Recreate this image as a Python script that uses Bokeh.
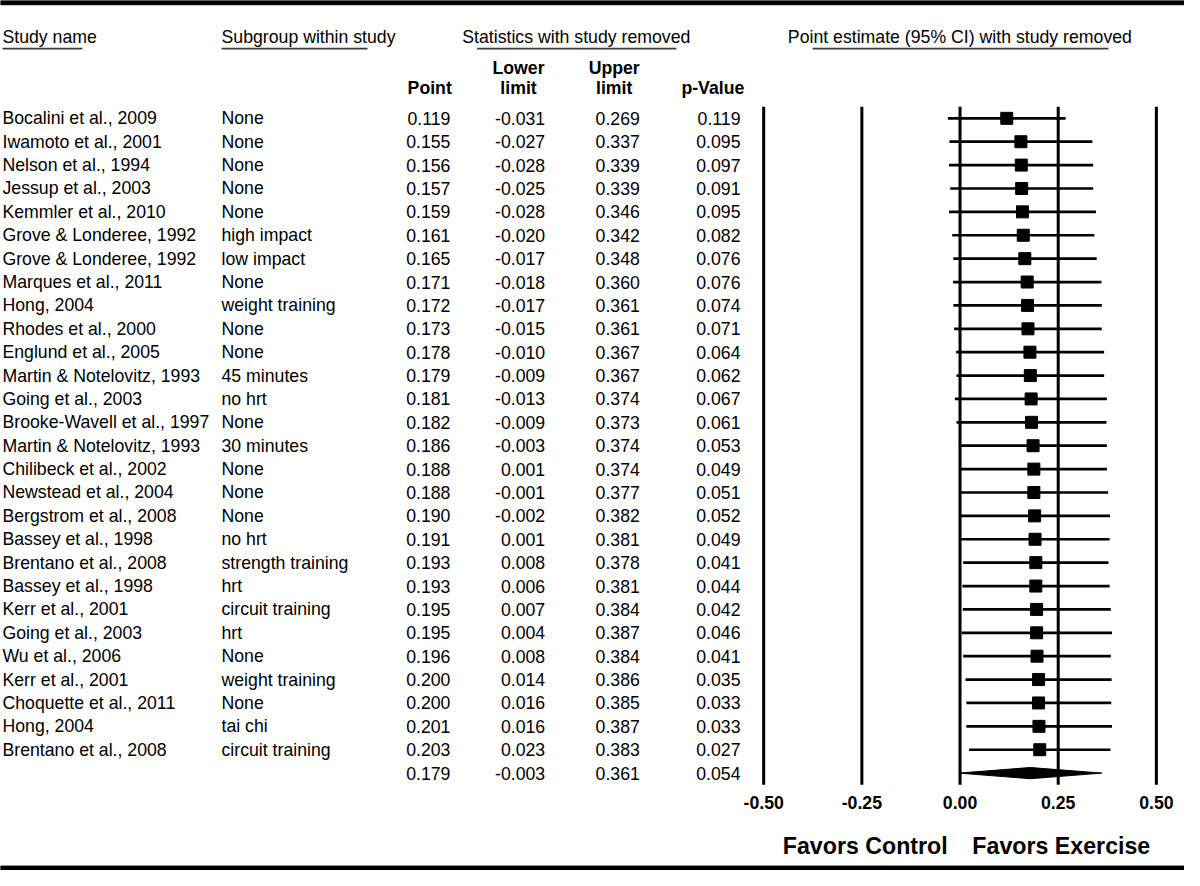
from bokeh.plotting import figure
from bokeh.models import Range1d, ColumnDataSource
from bokeh.core.properties import value
from bokeh.embed import file_html
from bokeh.resources import INLINE

# ---------------- data ----------------
studies = ["Bocalini et al., 2009", "Iwamoto et al., 2001", "Nelson et al., 1994",
           "Jessup et al., 2003", "Kemmler et al., 2010", "Grove & Londeree, 1992",
           "Grove & Londeree, 1992", "Marques et al., 2011", "Hong, 2004",
           "Rhodes et al., 2000", "Englund et al., 2005", "Martin & Notelovitz, 1993",
           "Going et al., 2003", "Brooke-Wavell et al., 1997", "Martin & Notelovitz, 1993",
           "Chilibeck et al., 2002", "Newstead et al., 2004", "Bergstrom et al., 2008",
           "Bassey et al., 1998", "Brentano et al., 2008", "Bassey et al., 1998",
           "Kerr et al., 2001", "Going et al., 2003", "Wu et al., 2006",
           "Kerr et al., 2001", "Choquette et al., 2011", "Hong, 2004",
           "Brentano et al., 2008"]
subgroups = ["None", "None", "None", "None", "None", "high impact", "low impact", "None",
             "weight training", "None", "None", "45 minutes", "no hrt", "None",
             "30 minutes", "None", "None", "None", "no hrt", "strength training", "hrt",
             "circuit training", "hrt", "None", "weight training", "None", "tai chi",
             "circuit training"]
point = [0.119, 0.155, 0.156, 0.157, 0.159, 0.161, 0.165, 0.171, 0.172, 0.173, 0.178,
         0.179, 0.181, 0.182, 0.186, 0.188, 0.188, 0.190, 0.191, 0.193, 0.193, 0.195,
         0.195, 0.196, 0.200, 0.200, 0.201, 0.203]
lower = [-0.031, -0.027, -0.028, -0.025, -0.028, -0.020, -0.017, -0.018, -0.017, -0.015,
         -0.010, -0.009, -0.013, -0.009, -0.003, 0.001, -0.001, -0.002, 0.001, 0.008,
         0.006, 0.007, 0.004, 0.008, 0.014, 0.016, 0.016, 0.023]
upper = [0.269, 0.337, 0.339, 0.339, 0.346, 0.342, 0.348, 0.360, 0.361, 0.361, 0.367,
         0.367, 0.374, 0.373, 0.374, 0.374, 0.377, 0.382, 0.381, 0.378, 0.381, 0.384,
         0.387, 0.384, 0.386, 0.385, 0.387, 0.383]
pvalue = [0.119, 0.095, 0.097, 0.091, 0.095, 0.082, 0.076, 0.076, 0.074, 0.071, 0.064,
          0.062, 0.067, 0.061, 0.053, 0.049, 0.051, 0.052, 0.049, 0.041, 0.044, 0.042,
          0.046, 0.041, 0.035, 0.033, 0.033, 0.027]
summary = {"point": 0.179, "lower": -0.003, "upper": 0.361, "p": 0.054}
ticks = [-0.50, -0.25, 0.00, 0.25, 0.50]
tick_labels = ["-0.50", "-0.25", "0.00", "0.25", "0.50"]

# ---------------- layout helpers ----------------
X0PX, PXU = 972.5, 398.0          # pixel of effect 0, pixels per unit
ROW0, ROWH = 120.0, 23.815        # pixel of first row, row spacing
REF_W, REF_H = 1200.0, 886.0


def fx(px):
    return (px - X0PX) / PXU


def fy(py):
    return (py - ROW0) / ROWH


FONT = value("Liberation Sans")
FS = "17.7px"

p = figure(width=1184, height=870, output_backend="svg", toolbar_location=None,
           x_range=Range1d(fx(0), fx(REF_W)), y_range=Range1d(fy(REF_H), fy(0)),
           min_border=0, outline_line_color=None)
p.axis.visible = False
p.grid.visible = False
p.background_fill_color = "white"
p.border_fill_color = "white"

n = len(studies)
rows = list(range(n))
src = ColumnDataSource(dict(
    y=rows, study=studies, sub=subgroups,
    point=point, lower=lower, upper=upper,
    pt=[f"{v:.3f}" for v in point], lo=[f"{v:.3f}" for v in lower],
    up=[f"{v:.3f}" for v in upper], pv=[f"{v:.3f}" for v in pvalue],
    x_study=[fx(2)] * n, x_sub=[fx(224)] * n, x_pt=[fx(456)] * n,
    x_lo=[fx(552)] * n, x_up=[fx(648)] * n, x_pv=[fx(750)] * n,
))

# top / bottom bands
p.quad(left=fx(0), right=fx(REF_W), bottom=fy(4.3), top=fy(0), color="black")
p.quad(left=fx(0), right=fx(REF_W), bottom=fy(REF_H), top=fy(881.5), color="black")

# header texts
hdr = dict(text_font=FONT, text_font_size=FS, text_baseline="middle", text_color="black")
p.text(x=[fx(2), fx(224), fx(468), fx(798)], y=[fy(37)] * 4,
       text=["Study name", "Subgroup within study", "Statistics with study removed",
             "Point estimate (95% CI) with study removed"], text_align="left", **hdr)
p.segment(x0=[fx(2), fx(224), fx(483), fx(823)], x1=[fx(83), fx(372), fx(685), fx(1123)],
          y0=[fy(49)] * 4, y1=[fy(49)] * 4, line_color="#3a3a3a", line_width=1.6)

bold = dict(text_font=FONT, text_font_size=FS, text_font_style="bold",
            text_baseline="middle", text_align="center", text_color="black")
p.text(x=[fx(435), fx(525), fx(525), fx(622), fx(622), fx(722)],
       y=[fy(89), fy(69), fy(89), fy(69), fy(89), fy(89)],
       text=["Point", "Lower", "limit", "Upper", "limit", "p-Value"], **bold)

# table body
body = dict(source=src, y="y", text_font=FONT, text_font_size=FS,
            text_baseline="middle", text_color="black")
p.text(x="x_study", text="study", text_align="left", **body)
p.text(x="x_sub", text="sub", text_align="left", **body)
p.text(x="x_pt", text="pt", text_align="right", **body)
p.text(x="x_lo", text="lo", text_align="right", **body)
p.text(x="x_up", text="up", text_align="right", **body)
p.text(x="x_pv", text="pv", text_align="right", **body)

# summary row numbers
p.text(x=[fx(456), fx(552), fx(648), fx(750)], y=[n] * 4,
       text=[f"{summary[k]:.3f}" for k in ("point", "lower", "upper", "p")],
       text_align="right", text_font=FONT, text_font_size=FS,
       text_baseline="middle", text_color="black")

# vertical reference lines
p.segment(x0=ticks, x1=ticks, y0=[-0.5] * len(ticks), y1=[n + 0.5] * len(ticks),
          line_color="black", line_width=3)

# CIs and point squares
p.segment(x0="lower", x1="upper", y0="y", y1="y", source=src,
          line_color="black", line_width=2.7)
p.scatter(x="point", y="y", source=src, marker="square", size=12,
          fill_color="black", line_color="black")

# summary diamond
h = 0.24
p.patch(x=[summary["lower"], summary["point"], summary["upper"], summary["point"]],
        y=[n, n - h, n, n + h], fill_color="black", line_color="black")

# tick labels
p.text(x=ticks, y=[fy(817)] * len(ticks), text=tick_labels, **bold)

# favors labels
fav = dict(text_font=FONT, text_font_size="23.2px", text_font_style="bold",
           text_baseline="middle", text_color="black")
p.text(x=[fx(960)], y=[fy(861)], text=["Favors Control"], text_align="right", **fav)
p.text(x=[fx(985)], y=[fy(861)], text=["Favors Exercise"], text_align="left", **fav)

open("out.html", "w").write(file_html(p, INLINE))
